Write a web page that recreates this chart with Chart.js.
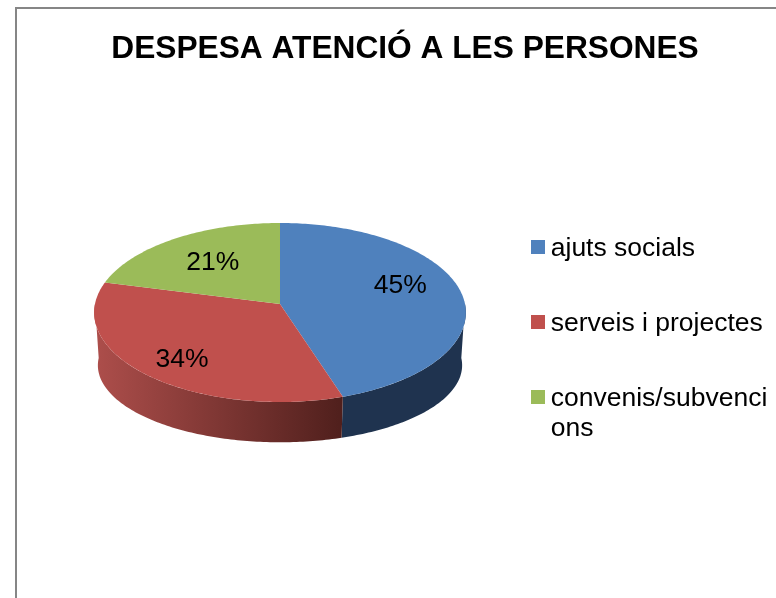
<!DOCTYPE html>
<html lang="ca">
<head>
    <meta charset="UTF-8" />
    <title>Despesa atenció a les persones</title>
    <script src="https://cdn.jsdelivr.net/npm/chart.js"></script>
    <style>
        body { margin: 0; background: #fff; overflow: hidden; }
        canvas { display: block; }
    </style>
</head>
<body>
    <canvas id="pie" width="776" height="598"></canvas>
    <script>
        const titleText = 'DESPESA ATENCIÓ A LES PERSONES';
        const categories = ['ajuts socials', 'serveis i projectes', ['convenis/subvenci', 'ons']];
        const values = [45, 34, 21];
        const colors = ['#4f81bd', '#c0504d', '#9bbb59'];

        // look of the tilted pie, Chart.js only supplies the slice angles
        const pie = { cx: 280, cy: 304, rx: 185, ry: 88.7, tilt: 0.095, depth: 54, shrinkX: 0.98, shrinkY: 0.86 };
        const labelSpots = [
            { radius: 0.665, dy: -9 },
            { radius: 0.735, dy: 6 },
            { radius: 0.62, dy: 0 }
        ];

        function project(angle, radius, down, scaleX, scaleY) {
            const u = Math.cos(angle) * radius;
            const v = Math.sin(angle) * radius;
            const w = 1 - pie.tilt * v;
            return {
                x: pie.cx + pie.rx * scaleX * u / w,
                y: pie.cy + down + pie.ry * scaleY * v / w
            };
        }

        function traceEdge(ctx, from, to, down, scaleX, scaleY) {
            const steps = Math.max(2, Math.ceil(Math.abs(to - from) * 60));
            for (let i = 0; i <= steps; i++) {
                const p = project(from + (to - from) * i / steps, 1, down, scaleX, scaleY);
                ctx.lineTo(p.x, p.y);
            }
        }

        function wallFill(ctx, index) {
            if (index === 0) return '#1f334f';
            const g = ctx.createLinearGradient(pie.cx - pie.rx, 0, pie.cx + 64, 0);
            g.addColorStop(0, '#ad4e4b');
            g.addColorStop(1, '#4f1f1c');
            return g;
        }

        const tiltedPie = {
            id: 'tiltedPie',
            beforeDatasetDraw(chart) {
                const ctx = chart.ctx;
                const arcs = chart.getDatasetMeta(0).data;

                // side wall, only the front half can be seen
                arcs.forEach((arc, i) => {
                    const from = Math.max(arc.startAngle, 0);
                    const to = Math.min(arc.endAngle, Math.PI);
                    if (from >= to) return;
                    ctx.beginPath();
                    traceEdge(ctx, from, to, 0, 1, 1);
                    traceEdge(ctx, to, from, pie.depth, pie.shrinkX, pie.shrinkY);
                    ctx.closePath();
                    ctx.fillStyle = wallFill(ctx, i);
                    ctx.fill();
                });

                // top face
                arcs.forEach((arc, i) => {
                    ctx.beginPath();
                    ctx.moveTo(pie.cx, pie.cy);
                    traceEdge(ctx, arc.startAngle, arc.endAngle, 0, 1, 1);
                    ctx.closePath();
                    ctx.fillStyle = colors[i];
                    ctx.fill();
                });

                ctx.fillStyle = '#000';
                ctx.font = '26.5px "Liberation Sans"';
                ctx.textAlign = 'center';
                ctx.textBaseline = 'middle';
                arcs.forEach((arc, i) => {
                    const mid = (arc.startAngle + arc.endAngle) / 2;
                    const p = project(mid, labelSpots[i].radius, labelSpots[i].dy, 1, 1);
                    ctx.fillText(values[i] + '%', p.x, p.y);
                });
                return false;
            }
        };

        const pageFrame = {
            id: 'pageFrame',
            beforeDraw(chart) {
                const ctx = chart.ctx;
                ctx.save();
                ctx.fillStyle = '#fff';
                ctx.fillRect(0, 0, chart.width, chart.height);
                ctx.strokeStyle = '#868686';
                ctx.lineWidth = 2;
                ctx.strokeRect(16, 8, 900, 800);
                ctx.restore();
            }
        };

        // legend and title sit where the reference has them, not where the layout puts them
        const placeBoxes = {
            id: 'placeBoxes',
            afterLayout(chart) {
                const legend = chart.legend;
                legend.left = 488;
                legend.right = 776;
                legend.top = 187.25;
                legend.bottom = 598;
                chart.titleBlock.left = 34;
                chart.titleBlock.right = 776;
            }
        };

        // swatch drawn over a 1px legend box so the text starts close to it,
        // off centre in its canvas to line up with the text
        function swatch(color) {
            const c = document.createElement('canvas');
            c.width = 16;
            c.height = 18;
            const g = c.getContext('2d');
            g.fillStyle = color;
            g.fillRect(2, 0, 14, 14);
            return c;
        }

        new Chart(document.getElementById('pie'), {
            type: 'pie',
            data: {
                labels: categories,
                datasets: [{ data: values, backgroundColor: colors, borderWidth: 0 }]
            },
            options: {
                responsive: false,
                animation: false,
                plugins: {
                    title: {
                        display: true,
                        text: titleText,
                        color: '#000',
                        font: { family: '"Liberation Sans"', size: 31.7, weight: 'bold' },
                        padding: { top: 30, bottom: 10 }
                    },
                    legend: {
                        position: 'right',
                        align: 'start',
                        labels: {
                            color: '#000',
                            font: { family: '"Liberation Sans"', size: 26.5, lineHeight: 1.13 },
                            padding: 48.5,
                            usePointStyle: true,
                            boxWidth: 1,
                            boxHeight: 14,
                            generateLabels(chart) {
                                return categories.map((text, i) => ({
                                    text: text,
                                    fillStyle: colors[i],
                                    strokeStyle: colors[i],
                                    lineWidth: 0,
                                    pointStyle: swatch(colors[i]),
                                    index: i
                                }));
                            }
                        }
                    },
                    tooltip: { enabled: false }
                }
            },
            plugins: [pageFrame, placeBoxes, tiltedPie]
        });
    </script>
</body>
</html>
